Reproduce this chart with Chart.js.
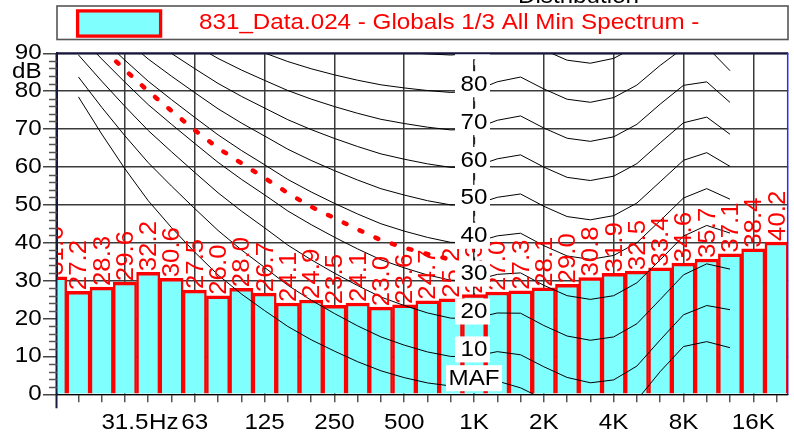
<!DOCTYPE html>
<html>
<head>
<meta charset="utf-8">
<script src="https://cdn.jsdelivr.net/npm/chart.js@4/dist/chart.umd.min.js"></script>
<style>
  html, body { margin: 0; padding: 0; background: #ffffff; }
  #wrap { width: 794px; height: 434px; }
</style>
</head>
<body>
<div id="wrap"><canvas id="c" width="794" height="434"></canvas></div>
<script>
// 1/3-octave band centres, band index 0 = 16 Hz ... 31 = 20 kHz
const bands = ['16','20','25','31.5','40','50','63','80','100','125','160','200','250','315','400','500','630','800',
               '1K','1.25K','1.6K','2K','2.5K','3.15K','4K','5K','6.3K','8K','10K','12.5K','16K','20K'];

// Minimum spectrum, dB per band
const spectrum = [31.0, 27.2, 28.3, 29.6, 32.2, 30.6, 27.5, 26.0, 28.0, 26.7, 24.1, 24.9, 23.5, 24.1, 23.0, 23.6,
                  24.7, 25.2, 26.3, 27.0, 27.3, 28.1, 29.0, 30.8, 31.9, 32.5, 33.4, 34.6, 35.7, 37.1, 38.4, 40.2];

// Equal-loudness contours, bands 1 (20 Hz) .. 29 (12.5 kHz)
const contourStart = 1;
const maf    = [78.5, 68.7, 59.5, 51.1, 44.0, 37.5, 31.5, 26.5, 22.1, 17.9, 14.4, 11.4, 8.6, 6.2, 4.4, 3.0, 2.2, 2.4, 3.5, 1.7, -1.3, -4.2, -6.0, -5.4, -1.5, 6.0, 12.6, 13.9, 12.3];
const phon10 = [83.75, 75.76, 68.21, 61.14, 54.96, 49.01, 43.24, 38.13, 33.48, 28.77, 24.84, 21.33, 18.05, 15.14, 12.98, 11.18, 9.99, 10.00, 11.26, 10.43, 7.27, 4.45, 3.04, 3.80, 7.46, 14.35, 20.98, 23.43, 22.33];
const phon20 = [89.58, 82.65, 75.98, 69.62, 64.02, 58.55, 53.19, 48.38, 43.94, 39.37, 35.51, 31.99, 28.69, 25.67, 23.43, 21.48, 20.10, 20.01, 21.46, 21.40, 18.15, 15.38, 14.26, 15.14, 18.63, 25.02, 31.52, 34.43, 33.04];
const phon30 = [94.85, 88.52, 82.36, 76.45, 71.26, 66.20, 61.22, 56.76, 52.64, 48.38, 44.78, 41.47, 38.36, 35.50, 33.37, 31.49, 30.11, 30.00, 31.65, 32.04, 28.76, 26.03, 25.05, 26.02, 29.43, 35.48, 41.75, 44.57, 42.55];
const phon40 = [99.85, 93.94, 88.17, 82.63, 77.78, 73.08, 68.48, 64.37, 60.59, 56.70, 53.41, 50.40, 47.58, 45.01, 43.07, 41.41, 40.10, 40.00, 41.82, 42.51, 39.23, 36.51, 35.61, 36.65, 40.01, 45.83, 51.80, 54.28, 51.49];
const phon50 = [104.72, 99.14, 93.69, 88.49, 83.96, 79.61, 75.36, 71.61, 68.17, 64.68, 61.72, 59.04, 56.55, 54.26, 52.59, 51.10, 49.98, 50.00, 51.99, 52.87, 49.62, 46.91, 46.05, 47.15, 50.48, 56.11, 61.76, 63.78, 60.14];
const phon60 = [109.51, 104.23, 99.08, 94.18, 89.96, 85.94, 82.05, 78.65, 75.56, 72.47, 69.86, 67.53, 65.39, 63.45, 62.05, 60.82, 59.89, 60.00, 62.15, 63.19, 59.96, 57.26, 56.42, 57.57, 60.89, 66.36, 71.66, 73.16, 68.63];
const phon70 = [114.26, 109.25, 104.38, 99.78, 95.87, 92.18, 88.64, 85.60, 82.85, 80.17, 77.92, 75.94, 74.16, 72.58, 71.47, 70.50, 69.78, 70.00, 72.32, 73.47, 70.28, 67.58, 66.76, 67.95, 71.26, 76.59, 81.54, 82.46, 77.04];
const phon80 = [118.99, 114.23, 109.65, 105.34, 101.72, 98.36, 95.17, 92.48, 90.09, 87.82, 85.92, 84.31, 82.89, 81.68, 80.86, 80.17, 79.67, 80.00, 82.48, 83.74, 80.59, 77.88, 77.07, 78.31, 81.62, 86.81, 91.41, 91.74, 85.41];
const phon90 = [123.71, 119.20, 114.88, 110.87, 107.55, 104.51, 101.67, 99.33, 97.29, 95.43, 93.89, 92.65, 91.60, 90.76, 90.24, 89.84, 89.55, 90.00, 92.65, 94.00, 90.88, 88.18, 87.38, 88.66, 91.96, 97.02, 101.26, 100.99, 93.75];
const contours = [maf, phon10, phon20, phon30, phon40, phon50, phon60, phon70, phon80, phon90];
const contourNames = ['MAF', '10', '20', '30', '40', '50', '60', '70', '80', '90'];
const labelBand = 18; // contour labels sit on the 1 kHz line

// Red dashed reference curve, bands 1 .. 17
const refStart = 1;
const refCurve = [97.4, 91.5, 85.6, 80.0, 74.8, 69.7, 65.0, 61.0, 57.1, 53.1, 49.5, 46.5, 43.5, 40.7, 38.7, 37.0, 35.6];

// Axis ticks
const octaveBands = [3, 6, 9, 12, 15, 18, 21, 24, 27, 30];
const octaveText  = ['31.5', '63', '125', '250', '500', '1K', '2K', '4K', '8K', '16K'];
const yTicks = [0, 10, 20, 30, 40, 50, 60, 70, 80, 90];

const title = '831_Data.024 - Globals 1/3 All Min Spectrum -';

const FONT = '"Liberation Sans", Arial, Helvetica, sans-serif';
const GRID = '#3a3a3a';
const FS = 22;     // text size
const SX = 1.1;    // horizontal stretch of the text face

function drawText(ctx, s, x, y, size, color, align, sx, rot, baseline) {
  ctx.save();
  ctx.font = size + 'px ' + FONT;
  ctx.fillStyle = color;
  ctx.textAlign = align;
  ctx.textBaseline = baseline || 'middle';
  ctx.translate(x, y);
  if (rot) ctx.rotate(rot);
  ctx.scale(sx, 1);
  ctx.fillText(s, 0, 0);
  ctx.restore();
}
function textWidth(ctx, s, size, sx) {
  ctx.save();
  ctx.font = size + 'px ' + FONT;
  const w = ctx.measureText(s).width * sx;
  ctx.restore();
  return w;
}
function line(ctx, x1, y1, x2, y2, color, w, dash) {
  ctx.save();
  ctx.strokeStyle = color; ctx.lineWidth = w;
  ctx.setLineDash(dash || []);
  ctx.beginPath(); ctx.moveTo(x1, y1); ctx.lineTo(x2, y2); ctx.stroke();
  ctx.restore();
}

const decor = {
  id: 'decor',
  beforeDatasetsDraw(chart) {
    const { ctx, chartArea: a, scales: { x } } = chart;
    const px = Math.round(x.getPixelForValue(labelBand)) + 0.5;
    line(ctx, px, a.top, px, a.bottom, '#222', 1.3, [7, 5]);
  },
  afterDatasetsDraw(chart) {
    const { ctx, chartArea: a, scales: { x, y } } = chart;

    ctx.save();
    ctx.beginPath();
    ctx.rect(a.left, a.top, a.right - a.left, a.bottom - a.top);
    ctx.clip();

    // band values above each bar
    spectrum.forEach((v, i) => {
      const cx = x.getPixelForValue(i) + 1.5;
      const top = y.getPixelForValue(v) - 1;
      drawText(ctx, v.toFixed(1), cx, top, 23.5, '#ff0000', 'left', 1.1, -Math.PI / 2);
    });

    // contour labels in white boxes at 1 kHz
    contours.forEach((arr, k) => {
      const lvl = arr[labelBand - contourStart];
      const cx = x.getPixelForValue(labelBand);
      const cy = y.getPixelForValue(lvl) - 7;
      const tw = textWidth(ctx, contourNames[k], FS, SX);
      const right = cx + tw / 2 + 2.5;
      const w = Math.max(tw + 5, 35);
      ctx.fillStyle = '#ffffff';
      ctx.fillRect(right - w, cy - 13, w, 26);
      drawText(ctx, contourNames[k], cx, cy + 0.5, FS, '#000000', 'center', SX);
    });
    ctx.restore();

    // frame
    line(ctx, a.left, a.top, a.right, a.top, '#14143c', 2);
    line(ctx, a.right - 0.5, a.top, a.right - 0.5, a.bottom, '#2a2aff', 1.5);
    line(ctx, a.left - 0.5, a.top, a.left - 0.5, a.bottom + 14, '#1a1a3a', 2);

    // minor dB ticks
    for (let v = 2; v < 90; v += 2) {
      if (v % 10 === 0) continue;
      const py = Math.round(y.getPixelForValue(v)) + 0.5;
      line(ctx, a.left - 8, py, a.left, py, '#555', 1.5);
    }

    // y tick labels
    yTicks.forEach(v => drawText(ctx, String(v), 41.7, y.getPixelForValue(v), FS, '#000', 'right', SX));
    drawText(ctx, 'dB', 41.7, y.getPixelForValue(85), FS, '#000', 'right', SX);

    // x tick labels
    octaveBands.forEach((b, k) => {
      const px = x.getPixelForValue(b);
      drawText(ctx, octaveText[k], px, 423, FS, '#000', 'center', SX);
      if (k === 0) {
        const tw = textWidth(ctx, octaveText[k], FS, SX);
        drawText(ctx, 'Hz', px + tw / 2 + 0.5, 423, FS, '#000', 'left', SX);
      }
    });

    // legend box
    ctx.save();
    ctx.fillStyle = '#fff';
    ctx.fillRect(57, 6, 731, 33.5);
    ctx.strokeStyle = '#555'; ctx.lineWidth = 1.6;
    ctx.strokeRect(57, 6, 731, 33.5);
    ctx.fillStyle = '#80ffff';
    ctx.fillRect(77, 10.5, 84, 26);
    ctx.strokeStyle = '#ff0000'; ctx.lineWidth = 3.3;
    ctx.strokeRect(77.6, 10.9, 83, 25.2);
    ctx.restore();
    drawText(ctx, title, 199, 22.5, FS, '#ff0000', 'left', SX);

    // chart heading, cut by the top edge
    drawText(ctx, 'Distribution', 518, 3, FS, '#000', 'left', SX, 0, 'alphabetic');
  }
};

const datasets = [];
datasets.push({
  type: 'bar',
  data: spectrum.map((v, i) => ({ x: i, y: v })),
  backgroundColor: '#80ffff',
  borderColor: '#ff0000',
  borderWidth: { top: 3.5, left: 2.5, right: 2.5, bottom: 0 },
  borderSkipped: 'start',
  barPercentage: 1,
  categoryPercentage: 1,
  order: 3,
  clip: 0
});
contours.forEach(arr => datasets.push({
  type: 'line',
  data: arr.map((v, k) => ({ x: k + contourStart, y: v })),
  borderColor: '#000000',
  borderWidth: 1,
  pointRadius: 0,
  tension: 0,
  fill: false,
  order: 2,
  clip: 0
}));
datasets.push({
  type: 'line',
  data: refCurve.map((v, k) => ({ x: k + refStart, y: v })),
  borderColor: '#ff0000',
  borderWidth: 4.5,
  borderDash: [3, 14.5],
  borderCapStyle: 'round',
  pointRadius: 0,
  tension: 0,
  fill: false,
  order: 1,
  clip: 0
});

new Chart(document.getElementById('c'), {
  type: 'bar',
  data: { datasets },
  options: {
    responsive: false,
    animation: false,
    devicePixelRatio: 1,
    events: [],
    layout: { padding: { top: 53.3, right: 5.8, bottom: 0, left: 0 } },
    plugins: { legend: { display: false }, tooltip: { enabled: false } },
    scales: {
      x: {
        type: 'linear',
        min: 0.08,
        max: 31.5,
        offset: false,
        afterBuildTicks: s => { s.ticks = bands.slice(1).map((_, k) => ({ value: k + 1 })); },
        afterFit: s => { s.height = 39.7; },
        ticks: { display: false, autoSkip: false },
        grid: {
          offset: false,
          color: c => (c.tick && octaveBands.includes(c.tick.value)) ? GRID : 'rgba(0,0,0,0)',
          lineWidth: 1.5,
          tickColor: '#555',
          tickLength: 8,
          tickWidth: 1.5
        },
        border: { display: true, color: '#000', width: 1 }
      },
      y: {
        type: 'linear',
        min: 0,
        max: 90,
        afterBuildTicks: s => { s.ticks = yTicks.map(v => ({ value: v })); },
        afterFit: s => { s.width = 57; },
        ticks: { display: false },
        grid: { color: GRID, lineWidth: 1.5, tickColor: '#444', tickLength: 14, tickWidth: 1.5 },
        border: { display: true, color: '#14143c', width: 2 }
      }
    }
  },
  plugins: [decor]
});
</script>
</body>
</html>
